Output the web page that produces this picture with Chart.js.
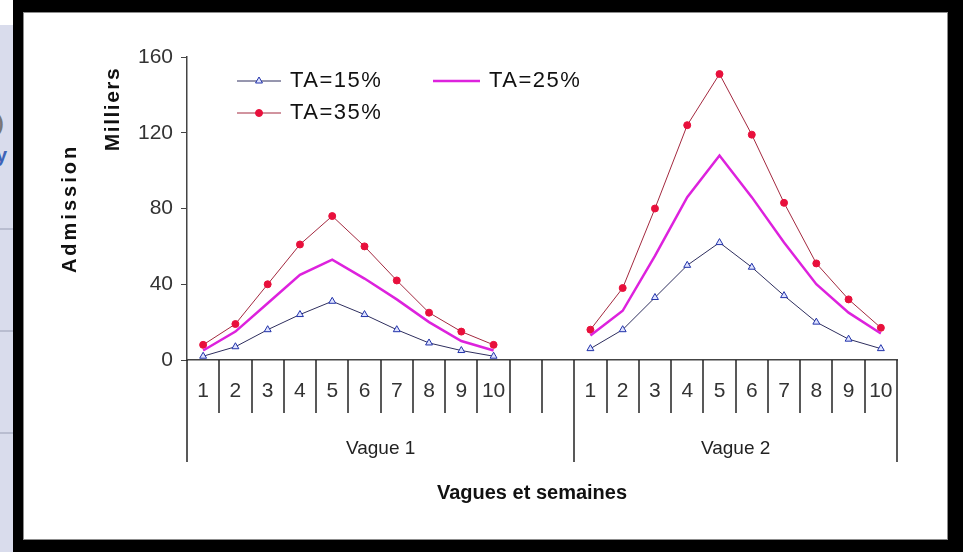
<!DOCTYPE html>
<html>
<head>
<meta charset="utf-8">
<script src="https://cdn.jsdelivr.net/npm/chart.js@4.4.1/dist/chart.umd.min.js"></script>
<style>
  body { margin: 0; width: 963px; height: 552px; overflow: hidden; background: #fff; position: relative; font-family: "Liberation Sans", Arial, sans-serif; }
  #side { position: absolute; left: 0; top: 25px; width: 15px; height: 527px; background: #d9dcec; overflow: hidden; }
  #side .rule { position: absolute; left: 0; width: 15px; height: 2px; background: #b9bdd0; }
  #side .frag { position: absolute; font-weight: bold; font-size: 20px; line-height: 20px; }
  #frame { position: absolute; left: 13px; top: 0; width: 950px; height: 552px; background: #000; }
  #paper { position: absolute; left: 23px; top: 12px; width: 925px; height: 528px; background: #fff; border: 1px solid #8c8c8c; box-sizing: border-box; }
  #wrap { position: absolute; left: 0; top: 0; width: 963px; height: 552px; }
</style>
</head>
<body>
<div id="side">
  <span class="frag" style="left:-3px; top:88px; color:#777;">)</span>
  <span class="frag" style="left:-4px; top:120px; color:#3d63b8;">y</span>
  <div class="rule" style="top:203px;"></div>
  <div class="rule" style="top:305px;"></div>
  <div class="rule" style="top:407px;"></div>
</div>
<div id="frame"></div>
<div id="paper"></div>
<div id="wrap"><canvas id="chart"></canvas></div>
<script>
// weeks shown under each wave, plus two empty slots after the first wave
const weeks = ['1', '2', '3', '4', '5', '6', '7', '8', '9', '10'];
const gapCount = 2;
const waves = ['Vague 1', 'Vague 2'];

// admissions, in thousands
const ta15Wave1 = [2, 7, 16, 24, 31, 24, 16, 9, 5, 2];
const ta15Wave2 = [6, 16, 33, 50, 62, 49, 34, 20, 11, 6];
const ta25Wave1 = [5, 15, 30, 45, 53, 43, 32, 20, 10, 5];
const ta25Wave2 = [13, 26, 55, 86, 108, 86, 62, 40, 25, 14];
const ta35Wave1 = [8, 19, 40, 61, 76, 60, 42, 25, 15, 8];
const ta35Wave2 = [16, 38, 80, 124, 151, 119, 83, 51, 32, 17];

const yMax = 160;
const yStep = 40;

const blanks = Array(gapCount).fill('');
const labels = [...weeks, ...blanks, ...weeks];
const joinWaves = (a, b) => [...a, ...blanks.map(() => null), ...b];

const FONT = '"Liberation Sans", Arial, sans-serif';

// legend drawn inside the plot, two columns
const legendSlots = [
  { x: 237, y: 81, len: 44 },
  { x: 433, y: 81, len: 47 },
  { x: 237, y: 113, len: 44 }
];

const decorPlugin = {
  id: 'decor',
  afterDraw(chart) {
    const ctx = chart.ctx;
    const xs = chart.scales.x;
    const n = labels.length;
    const w = xs.width / n;
    const edges = [0, weeks.length + gapCount, n];

    // category separators under the axis, longer ones close each wave
    ctx.save();
    ctx.strokeStyle = '#222';
    ctx.lineWidth = 1.5;
    for (let i = 0; i <= n; i++) {
      const px = Math.round(xs.left + i * w);
      const len = edges.includes(i) ? 102 : 53;
      ctx.beginPath();
      ctx.moveTo(px, xs.top);
      ctx.lineTo(px, xs.top + len);
      ctx.stroke();
    }

    // wave names
    ctx.fillStyle = '#222';
    ctx.font = '19px ' + FONT;
    ctx.textAlign = 'center';
    ctx.textBaseline = 'middle';
    waves.forEach((name, g) => {
      const cx = xs.left + (edges[g] + edges[g + 1]) / 2 * w;
      ctx.fillText(name, cx, xs.top + 89);
    });

    // x title
    ctx.fillStyle = '#111';
    ctx.font = 'bold 20px ' + FONT;
    ctx.fillText('Vagues et semaines', xs.left + xs.width / 2 - 10, xs.top + 133);

    // rotated y titles
    ctx.letterSpacing = '3px';
    ctx.translate(70, (chart.chartArea.top + chart.chartArea.bottom) / 2);
    ctx.rotate(-Math.PI / 2);
    ctx.fillText('Admission', 0, 0);
    ctx.setTransform(1, 0, 0, 1, 0, 0);
    ctx.font = 'bold 21px ' + FONT;
    ctx.letterSpacing = '1.5px';
    ctx.translate(113, 109);
    ctx.rotate(-Math.PI / 2);
    ctx.fillText('Milliers', 0, 0);
    ctx.restore();

    // legend
    ctx.save();
    ctx.font = '22px ' + FONT;
    ctx.letterSpacing = '1.5px';
    ctx.textAlign = 'left';
    ctx.textBaseline = 'middle';
    chart.data.datasets.forEach((ds, i) => {
      const s = legendSlots[i];
      ctx.strokeStyle = ds.borderColor;
      ctx.lineWidth = ds.borderWidth;
      ctx.beginPath();
      ctx.moveTo(s.x, s.y);
      ctx.lineTo(s.x + s.len, s.y);
      ctx.stroke();
      if (ds.pointRadius > 0) {
        ctx.fillStyle = ds.pointBackgroundColor;
        ctx.strokeStyle = ds.pointBorderColor;
        ctx.lineWidth = 1;
        Chart.helpers.drawPoint(ctx, { pointStyle: ds.pointStyle, radius: ds.pointRadius, borderWidth: 1 }, s.x + s.len / 2, s.y);
      }
      ctx.fillStyle = '#111';
      ctx.fillText(ds.label, s.x + s.len + 9, s.y);
    });
    ctx.restore();
  }
};

new Chart(document.getElementById('chart'), {
  type: 'line',
  data: {
    labels: labels,
    datasets: [
      {
        label: 'TA=15%',
        data: joinWaves(ta15Wave1, ta15Wave2),
        borderColor: '#2e2e5e',
        borderWidth: 1,
        pointStyle: 'triangle',
        pointRadius: 4,
        pointBackgroundColor: '#dfe3ff',
        pointBorderColor: '#2233aa',
        tension: 0
      },
      {
        label: 'TA=25%',
        data: joinWaves(ta25Wave1, ta25Wave2),
        borderColor: '#dd22dd',
        borderWidth: 2.5,
        pointRadius: 0,
        tension: 0
      },
      {
        label: 'TA=35%',
        data: joinWaves(ta35Wave1, ta35Wave2),
        borderColor: '#a3283f',
        borderWidth: 1,
        pointStyle: 'circle',
        pointRadius: 3.5,
        pointBackgroundColor: '#e8103c',
        pointBorderColor: '#e8103c',
        tension: 0
      }
    ]
  },
  options: {
    responsive: true,
    maintainAspectRatio: false,
    animation: false,
    devicePixelRatio: 1,
    layout: { padding: { left: 0, top: 57, right: 66, bottom: 0 } },
    plugins: {
      legend: { display: false },
      tooltip: { enabled: false }
    },
    scales: {
      x: {
        offset: true,
        grid: { display: false, drawTicks: false },
        border: { display: true, color: '#444', width: 1.5 },
        ticks: {
          autoSkip: false,
          maxRotation: 0,
          padding: 19,
          color: '#333',
          font: { family: FONT, size: 21 }
        },
        afterFit(scale) { scale.height = 192; }
      },
      y: {
        min: 0,
        max: yMax,
        grid: { drawOnChartArea: false, tickLength: 6, color: '#444' },
        border: { display: true, color: '#444', width: 1.5 },
        ticks: {
          stepSize: yStep,
          padding: 8,
          color: '#333',
          font: { family: FONT, size: 21 }
        },
        afterFit(scale) { scale.width = 187; }
      }
    }
  },
  plugins: [decorPlugin]
});
</script>
</body>
</html>
